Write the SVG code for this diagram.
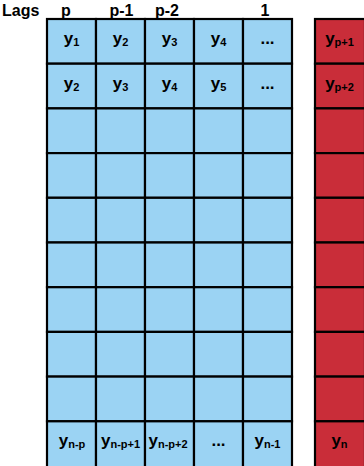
<svg xmlns="http://www.w3.org/2000/svg" width="364" height="466" viewBox="0 0 364 466">
<style>
.b{fill:#9bd3f3;stroke:#000;stroke-width:2.2}
.r{fill:#c92d39;stroke:#000;stroke-width:2.2}
text{font-family:"Liberation Sans",Arial,sans-serif;font-weight:bold;fill:#000}
.h{font-size:16px;text-anchor:middle}
.c{font-size:17px;text-anchor:middle}
.s{font-size:11px}
</style>
<rect width="364" height="466" fill="#fff"/>
<g id="headers">
<text x="2" y="16" style="font-size:16px">Lags</text>
<text class="h" x="66" y="16">p</text>
<text class="h" x="121.5" y="16">p-1</text>
<text class="h" x="167" y="16">p-2</text>
<text class="h" x="265" y="16">1</text>
</g>
<g id="grid">
<g id="row1">
<g id="c1-1"><rect class="b" x="47" y="19" width="49" height="44.7"/><text class="c" x="71.5" y="44">y<tspan class="s" dy="2">1</tspan></text></g>
<g id="c1-2"><rect class="b" x="96" y="19" width="49" height="44.7"/><text class="c" x="120.5" y="44">y<tspan class="s" dy="2">2</tspan></text></g>
<g id="c1-3"><rect class="b" x="145" y="19" width="49" height="44.7"/><text class="c" x="169.5" y="44">y<tspan class="s" dy="2">3</tspan></text></g>
<g id="c1-4"><rect class="b" x="194" y="19" width="49" height="44.7"/><text class="c" x="218.5" y="44">y<tspan class="s" dy="2">4</tspan></text></g>
<g id="c1-5"><rect class="b" x="243" y="19" width="49" height="44.7"/><text class="c" x="267.5" y="44">...</text></g>
<g id="t1"><rect class="r" x="315" y="19" width="50" height="44.7"/><text class="c" x="339.5" y="44">y<tspan class="s" dy="2">p+1</tspan></text></g>
</g>
<g id="row2">
<g id="c2-1"><rect class="b" x="47" y="63.7" width="49" height="44.7"/><text class="c" x="71.5" y="88.7">y<tspan class="s" dy="2">2</tspan></text></g>
<g id="c2-2"><rect class="b" x="96" y="63.7" width="49" height="44.7"/><text class="c" x="120.5" y="88.7">y<tspan class="s" dy="2">3</tspan></text></g>
<g id="c2-3"><rect class="b" x="145" y="63.7" width="49" height="44.7"/><text class="c" x="169.5" y="88.7">y<tspan class="s" dy="2">4</tspan></text></g>
<g id="c2-4"><rect class="b" x="194" y="63.7" width="49" height="44.7"/><text class="c" x="218.5" y="88.7">y<tspan class="s" dy="2">5</tspan></text></g>
<g id="c2-5"><rect class="b" x="243" y="63.7" width="49" height="44.7"/><text class="c" x="267.5" y="88.7">...</text></g>
<g id="t2"><rect class="r" x="315" y="63.7" width="50" height="44.7"/><text class="c" x="339.5" y="88.7">y<tspan class="s" dy="2">p+2</tspan></text></g>
</g>
<g id="rows-empty">
<rect class="b" x="47" y="108.4" width="49" height="44.7"/><rect class="b" x="96" y="108.4" width="49" height="44.7"/><rect class="b" x="145" y="108.4" width="49" height="44.7"/><rect class="b" x="194" y="108.4" width="49" height="44.7"/><rect class="b" x="243" y="108.4" width="49" height="44.7"/><rect class="r" x="315" y="108.4" width="50" height="44.7"/>
<rect class="b" x="47" y="153.1" width="49" height="44.7"/><rect class="b" x="96" y="153.1" width="49" height="44.7"/><rect class="b" x="145" y="153.1" width="49" height="44.7"/><rect class="b" x="194" y="153.1" width="49" height="44.7"/><rect class="b" x="243" y="153.1" width="49" height="44.7"/><rect class="r" x="315" y="153.1" width="50" height="44.7"/>
<rect class="b" x="47" y="197.8" width="49" height="44.7"/><rect class="b" x="96" y="197.8" width="49" height="44.7"/><rect class="b" x="145" y="197.8" width="49" height="44.7"/><rect class="b" x="194" y="197.8" width="49" height="44.7"/><rect class="b" x="243" y="197.8" width="49" height="44.7"/><rect class="r" x="315" y="197.8" width="50" height="44.7"/>
<rect class="b" x="47" y="242.5" width="49" height="44.7"/><rect class="b" x="96" y="242.5" width="49" height="44.7"/><rect class="b" x="145" y="242.5" width="49" height="44.7"/><rect class="b" x="194" y="242.5" width="49" height="44.7"/><rect class="b" x="243" y="242.5" width="49" height="44.7"/><rect class="r" x="315" y="242.5" width="50" height="44.7"/>
<rect class="b" x="47" y="287.2" width="49" height="44.7"/><rect class="b" x="96" y="287.2" width="49" height="44.7"/><rect class="b" x="145" y="287.2" width="49" height="44.7"/><rect class="b" x="194" y="287.2" width="49" height="44.7"/><rect class="b" x="243" y="287.2" width="49" height="44.7"/><rect class="r" x="315" y="287.2" width="50" height="44.7"/>
<rect class="b" x="47" y="331.9" width="49" height="44.7"/><rect class="b" x="96" y="331.9" width="49" height="44.7"/><rect class="b" x="145" y="331.9" width="49" height="44.7"/><rect class="b" x="194" y="331.9" width="49" height="44.7"/><rect class="b" x="243" y="331.9" width="49" height="44.7"/><rect class="r" x="315" y="331.9" width="50" height="44.7"/>
<rect class="b" x="47" y="376.6" width="49" height="44.7"/><rect class="b" x="96" y="376.6" width="49" height="44.7"/><rect class="b" x="145" y="376.6" width="49" height="44.7"/><rect class="b" x="194" y="376.6" width="49" height="44.7"/><rect class="b" x="243" y="376.6" width="49" height="44.7"/><rect class="r" x="315" y="376.6" width="50" height="44.7"/>
</g>
<g id="rowN">
<g id="cN-1"><rect class="b" x="47" y="421.3" width="49" height="46"/><text class="c" x="72" y="445.5">y<tspan class="s" dy="2">n-p</tspan></text></g>
<g id="cN-2"><rect class="b" x="96" y="421.3" width="49" height="46"/><text class="c" x="120.5" y="445.5">y<tspan class="s" dy="2">n-p+1</tspan></text></g>
<g id="cN-3"><rect class="b" x="145" y="421.3" width="49" height="46"/><text class="c" x="168" y="445.5">y<tspan class="s" dy="2">n-p+2</tspan></text></g>
<g id="cN-4"><rect class="b" x="194" y="421.3" width="49" height="46"/><text class="c" x="218.5" y="445.5">...</text></g>
<g id="cN-5"><rect class="b" x="243" y="421.3" width="49" height="46"/><text class="c" x="267.5" y="445.5">y<tspan class="s" dy="2">n-1</tspan></text></g>
<g id="tN"><rect class="r" x="315" y="421.3" width="50" height="46"/><text class="c" x="339.5" y="445.5">y<tspan class="s" dy="2">n</tspan></text></g>
</g>
</g>
<g id="connectors"/>
</svg>
